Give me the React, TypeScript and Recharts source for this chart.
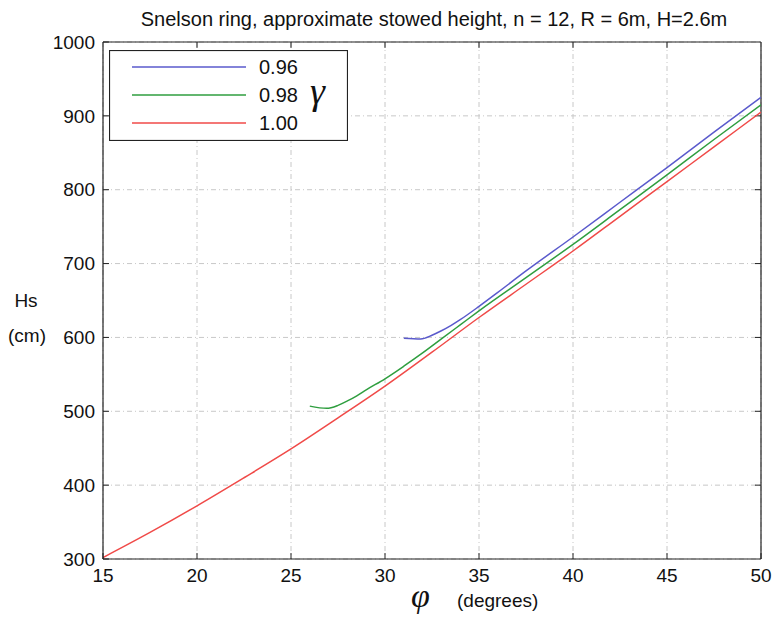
import React from "react";
import {
  LineChart,
  Line,
  XAxis,
  YAxis,
  CartesianGrid,
  Legend,
  ReferenceLine,
} from "recharts";

// stowed height Hs (cm) vs phi (degrees), one curve per gamma
const phiBlue = [31, 31.9, 32.5, 33, 33.5, 34, 35, 36, 37.5, 40, 42.5, 45, 47.5, 50];
const hsBlue = [599, 598, 603, 609, 616, 624, 642, 661, 690, 736, 783, 830, 878, 925];

const phiGreen = [26, 26.9, 27.5, 28, 28.5, 29, 30, 31, 32, 33, 34, 35, 37.5, 40, 42.5, 45, 47.5, 50];
const hsGreen = [507, 504, 508, 514, 521, 529, 544, 561, 579, 598, 617, 636, 681, 726, 773, 820, 868, 915];

const phiRed = [15, 17.5, 20, 22.5, 25, 27.5, 30, 32.5, 35, 37.5, 40, 42.5, 45, 47.5, 50];
const hsRed = [302, 336, 372, 410, 449, 491, 534, 580, 627, 672, 717, 764, 811, 858, 905];

const xTicks = [15, 20, 25, 30, 35, 40, 45, 50];
const yTicks = [300, 400, 500, 600, 700, 800, 900, 1000];

const gammaNames = ["0.96", "0.98", "1.00"];

const toRows = (xs: number[], ys: number[]) => xs.map((phi, i) => ({ phi, hs: ys[i] }));

const blueData = toRows(phiBlue, hsBlue);
const greenData = toRows(phiGreen, hsGreen);
const redData = toRows(phiRed, hsRed);

const FONT = "'Liberation Sans', Arial, Helvetica, sans-serif";
const SERIF = "'Liberation Serif', 'Times New Roman', serif";
const AXIS = "#222";

// inner tick length on the top / right frame, in data units (about 6px)
const TICK_X = 0.32;
const TICK_Y = 8;

function LegendBox({ payload }: any) {
  const items = (payload || []).filter((it: any) => gammaNames.includes(it.value));
  return (
    <svg width={239} height={91} style={{ display: "block" }}>
      <rect x={0.5} y={0.5} width={238} height={90} fill="#fff" stroke={AXIS} strokeWidth={1.2} />
      {items.map((it: any, i: number) => {
        const y = 17 + i * 28;
        return (
          <g key={it.value}>
            <line x1={23} x2={137} y1={y} y2={y} stroke={it.color} strokeWidth={1.4} />
            <text x={150} y={y + 7} fontFamily={FONT} fontSize={20} fill="#111">
              {it.value}
            </text>
          </g>
        );
      })}
      <text x={201} y={54} fontFamily={SERIF} fontStyle="italic" fontSize={38} fill="#111">
        γ
      </text>
    </svg>
  );
}

export default function App() {
  return (
    <div style={{ position: "absolute", left: 0, top: 0, background: "#fff" }}>
      <LineChart width={775} height={620} margin={{ top: 42, right: 14, bottom: 0, left: 0 }}>
        <CartesianGrid
          stroke="#c8c8c8"
          strokeDasharray="5 3 1 3"
          horizontalValues={yTicks}
          verticalValues={xTicks}
        />
        <XAxis
          dataKey="phi"
          type="number"
          domain={[15, 50]}
          ticks={xTicks}
          allowDataOverflow
          height={61}
          tickSize={-6}
          tickMargin={16}
          axisLine={{ stroke: AXIS, strokeWidth: 1.2 }}
          tickLine={{ stroke: AXIS }}
          tick={{ fill: "#111", fontSize: 19, fontFamily: FONT }}
          label={{
            content: () => (
              <g>
                <text x={434} y={26} textAnchor="middle" fontFamily={FONT} fontSize={20} fill="#111">
                  Snelson ring, approximate stowed height, n = 12, R = 6m, H=2.6m
                </text>
                <text x={411} y={607} fontFamily={SERIF} fontStyle="italic" fontSize={34} fill="#111">
                  φ
                </text>
                <text x={457} y={607} fontFamily={FONT} fontSize={19} fill="#111">
                  (degrees)
                </text>
              </g>
            ),
          }}
        />
        <YAxis
          type="number"
          domain={[300, 1000]}
          ticks={yTicks}
          allowDataOverflow
          width={103}
          tickSize={-6}
          tickMargin={14}
          axisLine={{ stroke: AXIS, strokeWidth: 1.2 }}
          tickLine={{ stroke: AXIS }}
          tick={{ fill: "#111", fontSize: 19, fontFamily: FONT }}
          label={{
            content: () => (
              <g fontFamily={FONT} fontSize={19} fill="#111" textAnchor="middle">
                <text x={26} y={307}>Hs</text>
                <text x={27} y={342}>(cm)</text>
              </g>
            ),
          }}
        />
        {/* top and right edges of the box, with inward ticks */}
        <ReferenceLine y={1000} stroke={AXIS} strokeWidth={1.2} ifOverflow="visible" />
        <ReferenceLine x={50} stroke={AXIS} strokeWidth={1.2} ifOverflow="visible" />
        {xTicks.slice(1, -1).map((t) => (
          <ReferenceLine
            key={"tx" + t}
            segment={[{ x: t, y: 1000 }, { x: t, y: 1000 - TICK_Y }]}
            stroke={AXIS}
          />
        ))}
        {yTicks.slice(1, -1).map((t) => (
          <ReferenceLine
            key={"ty" + t}
            segment={[{ x: 50, y: t }, { x: 50 - TICK_X, y: t }]}
            stroke={AXIS}
          />
        ))}
        <Legend
          layout="vertical"
          align="center"
          verticalAlign="middle"
          wrapperStyle={{ left: 109, top: 50, width: 239, height: 91 }}
          content={<LegendBox />}
        />
        <Line
          data={blueData}
          dataKey="hs"
          name={gammaNames[0]}
          type="monotone"
          stroke="#5a5acc"
          strokeWidth={1.5}
          dot={false}
          isAnimationActive={false}
        />
        <Line
          data={greenData}
          dataKey="hs"
          name={gammaNames[1]}
          type="monotone"
          stroke="#2f9e3f"
          strokeWidth={1.5}
          dot={false}
          isAnimationActive={false}
        />
        <Line
          data={redData}
          dataKey="hs"
          name={gammaNames[2]}
          type="monotone"
          stroke="#f04a48"
          strokeWidth={1.5}
          dot={false}
          isAnimationActive={false}
        />
      </LineChart>
    </div>
  );
}
